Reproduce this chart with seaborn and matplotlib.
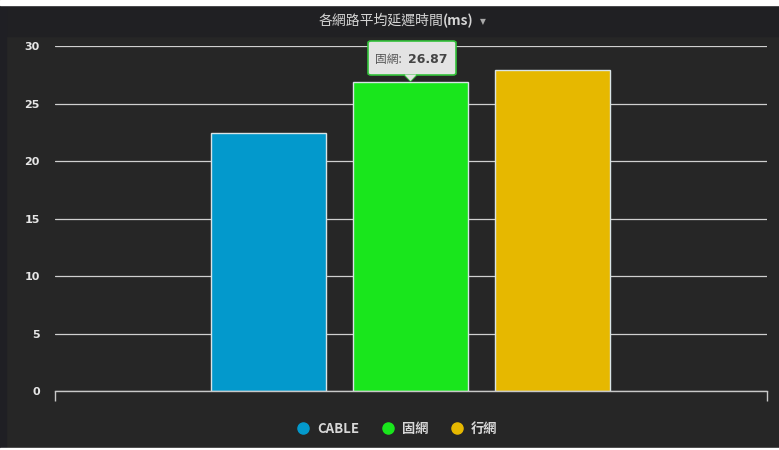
import matplotlib
matplotlib.use("Agg")
import matplotlib.pyplot as plt
from matplotlib.patches import Rectangle, FancyBboxPatch, Polygon
from matplotlib.lines import Line2D
import seaborn as sns
import pandas as pd

# Average latency per network type (ms)
networks = ["CABLE", "固網", "行網"]
latency = [22.4, 26.87, 27.9]
colors = ["#0399cc", "#19e61c", "#e6b800"]
y_ticks = [0, 5, 10, 15, 20, 25, 30]
title_main = "各網路平均延遲時間"
title_unit = "(ms)"
tip_index = 1

sns.set_theme(style="dark")
plt.rcParams["font.family"] = ["Noto Sans CJK TC", "DejaVu Sans"]

W, H = 779, 450
fig = plt.figure(figsize=(W / 100, H / 100), dpi=100)
fig.patch.set_facecolor("#262626")


def fx(px):
    return px / W


def fy(py):
    return 1 - py / H


# panel chrome: title bar, left strip, white edges
fig.patches.append(Rectangle((0, fy(36)), 1, fy(0) - fy(36), transform=fig.transFigure,
                             color="#202023", zorder=0))
fig.patches.append(Rectangle((0, 0), fx(6), 1, transform=fig.transFigure,
                             color="#1f1f24", zorder=0))
fig.patches.append(Rectangle((0, fy(5)), 1, fy(0) - fy(5), transform=fig.transFigure,
                             color="white", zorder=1))
fig.patches.append(Rectangle((0, 0), 1, fy(448), transform=fig.transFigure,
                             color="white", zorder=1))

ax_left, ax_right, ax_top, ax_bottom = 55, 767, 46, 391
ax = fig.add_axes([fx(ax_left), fy(ax_bottom), fx(ax_right - ax_left), fy(ax_top) - fy(ax_bottom)])
ax.set_facecolor("#262626")

df = pd.DataFrame({"network": networks, "latency": latency})
sns.barplot(data=df, x="network", y="latency", hue="network", order=networks,
            hue_order=networks, palette=colors, width=0.81, legend=False,
            edgecolor="#d9e4e6", linewidth=1, saturation=1, ax=ax)

xmin, xmax = -1.504, 3.511
ax.set_xlim(xmin, xmax)
ax.set_ylim(0, 30)
ax.set_xlabel("")
ax.set_ylabel("")
ax.set_axisbelow(True)

ax.set_yticks(y_ticks)
ax.set_yticklabels([str(t) for t in y_ticks], fontsize=8, fontweight="bold",
                   color="#e6e6e6", family="DejaVu Sans")
ax.tick_params(axis="y", length=0, pad=11)
ax.yaxis.grid(True, color="#cfcfcf", linewidth=0.9)
ax.xaxis.grid(False)

ax.set_xticks([xmin, xmax])
ax.set_xticklabels(["", ""])
ax.tick_params(axis="x", direction="out", length=7, width=1, color="#c8c8c8", bottom=True)

for side in ["top", "right", "left"]:
    ax.spines[side].set_visible(False)
ax.spines["bottom"].set_color("#c8c8c8")
ax.spines["bottom"].set_linewidth(1)

# title
fig.text(fx(443), fy(21), title_main, ha="right", va="center", fontsize=10, color="#d4d4d4")
fig.text(fx(443), fy(21), title_unit, ha="left", va="center", fontsize=10,
         fontweight="bold", color="#d4d4d4")
fig.text(fx(483), fy(22), "▼", ha="center", va="center", fontsize=5.5, color="#a8a8a8",
         family="DejaVu Sans")

# tooltip above the hovered bar
bx = tip_index
top_v = latency[tip_index]
tip = ax.transData.transform((bx, top_v))
tip_px = (tip[0], H - tip[1])
box_l, box_r, box_t, box_b = 368, 456, 41, 75
fig.patches.append(FancyBboxPatch((fx(box_l), fy(box_b)), fx(box_r - box_l), fy(box_t) - fy(box_b),
                                  boxstyle="round,pad=0,rounding_size=0.004",
                                  transform=fig.transFigure, facecolor="#e3e3e3",
                                  edgecolor="#33c23a", linewidth=1.2, zorder=5))
cx = tip_px[0] / W
fig.patches.append(Polygon([(cx - fx(6), fy(box_b) + 0.001), (cx + fx(6), fy(box_b) + 0.001),
                            (cx, fy(tip_px[1] - 1))], closed=True, transform=fig.transFigure,
                           facecolor="#e3e3e3", edgecolor="none", zorder=6))
fig.add_artist(Line2D([cx - fx(6), cx, cx + fx(6)], [fy(box_b), fy(tip_px[1] - 1), fy(box_b)],
                      transform=fig.transFigure, color="#33c23a", linewidth=1.2, zorder=6))
fig.text(fx(375), fy(59), f"{networks[tip_index]}: ", ha="left", va="center", fontsize=8.5,
         color="#555555", zorder=7)
fig.text(fx(408), fy(59), f"{top_v:.2f}", ha="left", va="center", fontsize=9,
         fontweight="bold", color="#444444", family="DejaVu Sans", zorder=7)

# legend
handles = [Line2D([0], [0], marker="o", linestyle="none", markersize=8,
                  markerfacecolor=c, markeredgecolor=c) for c in colors]
leg = fig.legend(handles, networks, loc="center", bbox_to_anchor=(fx(397), fy(429)),
                 ncol=3, frameon=False, handlelength=1.0, handletextpad=0.55,
                 columnspacing=1.7, prop={"size": 9.5, "weight": "bold"})
for t in leg.get_texts():
    t.set_color("#d8d8d8")

fig.savefig("out.png", dpi=100, facecolor=fig.get_facecolor())
